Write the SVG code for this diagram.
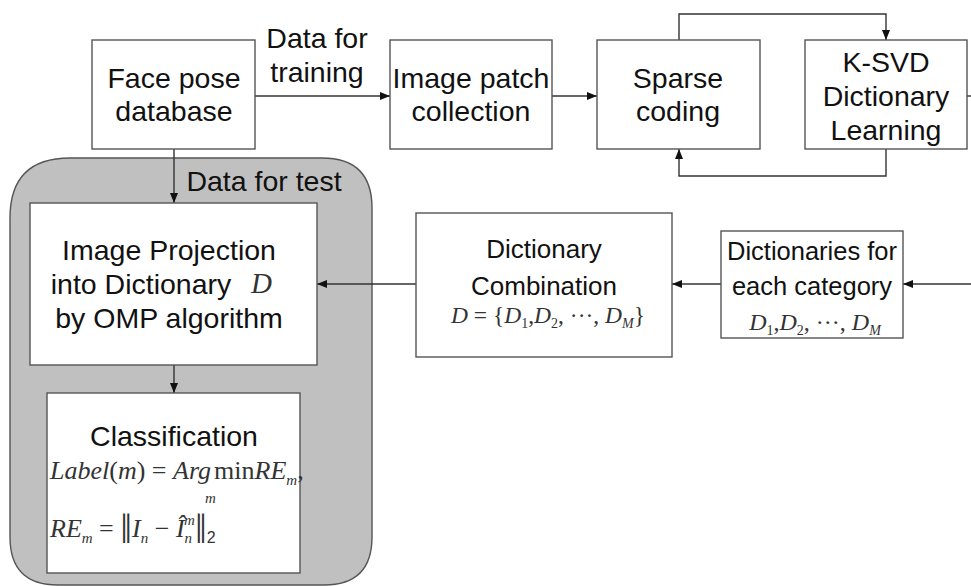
<svg xmlns="http://www.w3.org/2000/svg" width="971" height="586" viewBox="0 0 971 586">
<style>
.box{fill:#fff;stroke:#555;stroke-width:1.4}
.t{font-family:"Liberation Sans",Arial,sans-serif;font-size:28.5px;fill:#111;text-anchor:middle}
.s{font-size:25.5px}
.c{font-size:26px}
.m{font-family:"Liberation Serif","Times New Roman",serif;font-style:italic;fill:#333}
.r{font-style:normal}
.ln{fill:none;stroke:#333;stroke-width:1.4}
</style>
<defs>
<marker id="ah" viewBox="0 0 10 8" refX="10" refY="4" markerWidth="10" markerHeight="8" markerUnits="userSpaceOnUse" orient="auto">
<path d="M0,0 L10,4 L0,8 Z" fill="#111"/>
</marker>
</defs>
<rect width="971" height="586" fill="#fff"/>
<g id="test-region">
<path d="M10,218 Q10,158 70,158 L322,158 Q372,158 372,208 L372,537 Q372,585 324,585 L58,585 Q10,585 10,537 Z" fill="#c0c0c0" stroke="#555" stroke-width="1.4"/>
</g>
<g id="connectors">
<path class="ln" d="M255,96 L390,96" marker-end="url(#ah)"/>
<path class="ln" d="M552,96 L597,96" marker-end="url(#ah)"/>
<path class="ln" d="M679,40 L679,14 L886,14 L886,40" marker-end="url(#ah)"/>
<path class="ln" d="M886,149 L886,176 L679,176 L679,149" marker-end="url(#ah)"/>
<path class="ln" d="M967,96 L971,96"/>
<path class="ln" d="M971,284 L903,284" marker-end="url(#ah)"/>
<path class="ln" d="M721,284 L672,284" marker-end="url(#ah)"/>
<path class="ln" d="M416,284 L317,284" marker-end="url(#ah)"/>
<path class="ln" d="M174,149 L174,203" marker-end="url(#ah)"/>
<path class="ln" d="M174,365 L174,393" marker-end="url(#ah)"/>
<text class="t" x="317" y="48">Data for</text>
<text class="t" x="317" y="82">training</text>
<text class="t" x="264" y="191">Data for test</text>
</g>
<g id="face-db">
<rect class="box" x="92" y="40" width="163" height="109"/>
<text class="t" x="174" y="88">Face pose</text>
<text class="t" x="174" y="121">database</text>
</g>
<g id="patch">
<rect class="box" x="390" y="40" width="162" height="109"/>
<text class="t" x="471" y="88">Image patch</text>
<text class="t" x="471" y="121">collection</text>
</g>
<g id="sparse">
<rect class="box" x="597" y="40" width="163" height="109"/>
<text class="t" x="678" y="88">Sparse</text>
<text class="t" x="678" y="121">coding</text>
</g>
<g id="ksvd">
<rect class="box" x="805" y="40" width="162" height="109"/>
<text class="t" x="886" y="72">K-SVD</text>
<text class="t" x="886" y="106">Dictionary</text>
<text class="t" x="886" y="140">Learning</text>
</g>
<g id="dicts">
<rect class="box" x="721" y="231" width="182" height="107"/>
<text class="t s" x="812" y="260">Dictionaries for</text>
<text class="t s" x="812" y="295">each category</text>
<text class="m" x="815" y="330" font-size="24" text-anchor="middle">D<tspan font-size="14" dy="5" class="r">1</tspan><tspan dy="-5" class="r">,</tspan>D<tspan font-size="14" dy="5" class="r">2</tspan><tspan dy="-5" class="r">, ···, </tspan>D<tspan font-size="14" dy="5">M</tspan></text>
</g>
<g id="combo">
<rect class="box" x="416" y="213" width="256" height="144"/>
<text class="t c" x="544" y="258">Dictionary</text>
<text class="t c" x="544" y="295">Combination</text>
<text class="m" x="548" y="323" font-size="23.5" text-anchor="middle">D <tspan class="r">= {</tspan>D<tspan font-size="14" dy="5" class="r">1</tspan><tspan dy="-5" class="r">,</tspan>D<tspan font-size="14" dy="5" class="r">2</tspan><tspan dy="-5" class="r">, ···, </tspan>D<tspan font-size="14" dy="5">M</tspan><tspan dy="-5" class="r">}</tspan></text>
</g>
<g id="projection">
<rect class="box" x="30" y="203" width="287" height="162"/>
<text class="t" x="169" y="260">Image Projection</text>
<text class="t" x="141" y="294">into Dictionary</text>
<text class="m" x="251" y="293" font-size="29" fill="#111">D</text>
<text class="t" x="169" y="328">by OMP algorithm</text>
</g>
<g id="classification">
<rect class="box" x="47" y="393" width="253" height="180"/>
<text class="t" x="174" y="446">Classification</text>
<text class="m" x="50" y="479" font-size="26">Label<tspan class="r">(</tspan>m<tspan class="r">) = </tspan>Arg<tspan class="r" dx="3">min</tspan>RE<tspan font-size="15" dy="6">m</tspan><tspan class="r" dy="-6">,</tspan></text>
<text class="m" x="205" y="503" font-size="15">m</text>
<text class="m" x="50" y="537" font-size="26">RE<tspan font-size="15" dy="6">m</tspan><tspan class="r" dy="-6"> = </tspan><tspan class="r" font-size="42" dy="6">‖</tspan><tspan dy="-6">I</tspan><tspan font-size="15" dy="6">n</tspan><tspan class="r" dy="-6"> − </tspan>Î<tspan font-size="15" dy="6">n</tspan><tspan font-size="15" dx="-8" dy="-18">m</tspan><tspan class="r" font-size="42" dy="18">‖</tspan><tspan font-family="Liberation Sans" class="r" font-size="16" dy="0">2</tspan></text>
</g>
</svg>
